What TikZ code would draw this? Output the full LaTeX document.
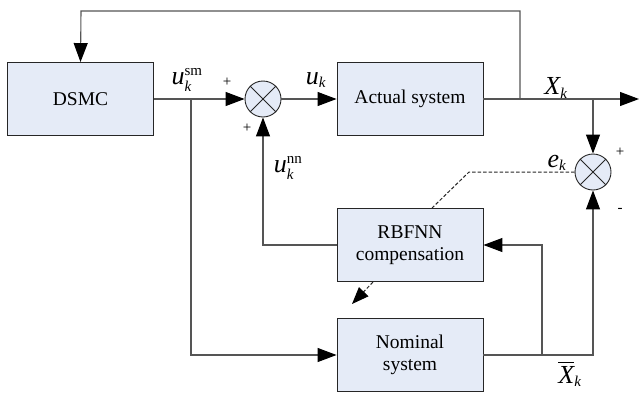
\documentclass[tikz,border=0pt]{standalone}
\usepackage{amsmath}
\usepackage{fontspec}
\setmainfont{Liberation Serif}
\newfontfamily\blockfont{Liberation Serif}
\usetikzlibrary{arrows.meta}
\DeclareMathSizes{26}{26}{15}{11}
\definecolor{boxfill}{RGB}{229,235,247}
\definecolor{wire}{RGB}{85,85,85}
\newcommand{\sym}[1]{\fontsize{26}{30}\selectfont$#1$}
\tikzset{
  block/.style={draw=black!85, line width=0.9pt, fill=boxfill, minimum width=146pt,
    minimum height=73pt, align=center, inner sep=0pt,
    font=\blockfont\fontsize{19.5}{22}\selectfont},
  summer/.style={draw=black!85, line width=0.9pt, fill=boxfill, circle,
    minimum size=36pt, inner sep=0pt},
  wireline/.style={draw=wire, line width=1.1pt},
  tip/.tip={Triangle[length=19pt,width=14pt,black]},
  sig/.style={wireline, -tip},
  dashline/.style={draw=black!85, line width=1pt, dash pattern=on 3.5pt off 2pt},
  lbl/.style={inner sep=0pt},
  sgn/.style={inner sep=0pt, font=\blockfont\fontsize{15}{15}\selectfont},
}
\begin{document}
\begin{tikzpicture}[x=1pt,y=-1pt]
\useasboundingbox (0,0) rectangle (639,394);

% blocks
\node[block] (dsmc)   at (80.5,99)  {DSMC};
\node[block] (plant)  at (410,99)   {Actual system};
\node[block] (rbf)    at (410,245)  {RBFNN\\compensation};
\node[block] (nom)    at (410,355)  {Nominal\\system};

% summing junctions
\node[summer] (s1) at (263,99) {};
\node[summer] (s2) at (593,172) {};
\foreach \s in {s1,s2}{
  \draw[black!85, line width=0.8pt] (\s.north west) -- (\s.south east);
  \draw[black!85, line width=0.8pt] (\s.north east) -- (\s.south west);
}

% branch points and free ends
\coordinate (bsm)  at (191,99);
\coordinate (bfb)  at (520,99);
\coordinate (bx)   at (593,99);
\coordinate (out)  at (639,99);
\coordinate (bxb)  at (542,355);
\coordinate (dk)   at (469,172);
\coordinate (dtop) at (432,208);
\coordinate (dfrom) at (373,282);
\coordinate (dto)  at (352,304);

% forward path
\draw[sig] (dsmc.east) -- (s1.west);
\draw[sig] (s1.east) -- (plant.west);
\draw[sig] (plant.east) -- (out);

% state feedback to the controller
\draw[sig] (bfb) -- (520,11) -- (81,11) -- (dsmc.north);

% nominal model branch
\draw[sig] (bsm) -- (bsm |- nom.west) -- (nom.west);

% neural compensation into the first junction
\draw[sig] (rbf.west) -- (s1.south |- rbf.west) -- (s1.south);

% error junction
\draw[sig] (bx) -- (s2.north);
\draw[sig] (nom.east) -- (s2.south |- nom.east) -- (s2.south);
\draw[sig] (bxb) -- (bxb |- rbf.east) -- (rbf.east);

% adaptation signals
\draw[dashline] (s2.west) -- (dk) -- (dtop);
\draw[dashline, -{Triangle[length=17pt,width=13pt,black]}] (dfrom) -- (dto);

% labels
\node[lbl] (lsm) at (187,80)  {\sym{\textit{u}_{\textit{k}}^{\text{sm}}}};
\node[lbl] (luk) at (316,80)  {\sym{\textit{u}_{\textit{k}}}};
\node[lbl] (lnn) at (288,168) {\sym{\textit{u}_{\textit{k}}^{\text{nn}}}};
\node[lbl] (lxk) at (556,88)  {\sym{\textit{X}_{\textit{k}}}};
\node[lbl] (lek) at (557,163) {\sym{\textit{e}_{\textit{k}}}};
\node[lbl] (lxb) at (570,374) {\sym{\overline{\textit{X}}_{\textit{k}}}};
\node[sgn] (p1) at (227,82)  {+};
\node[sgn] (p2) at (247,128) {+};
\node[sgn] (p3) at (620,152) {+};
\node[sgn] (m1) at (620,210) {-};
\end{tikzpicture}
\end{document}
